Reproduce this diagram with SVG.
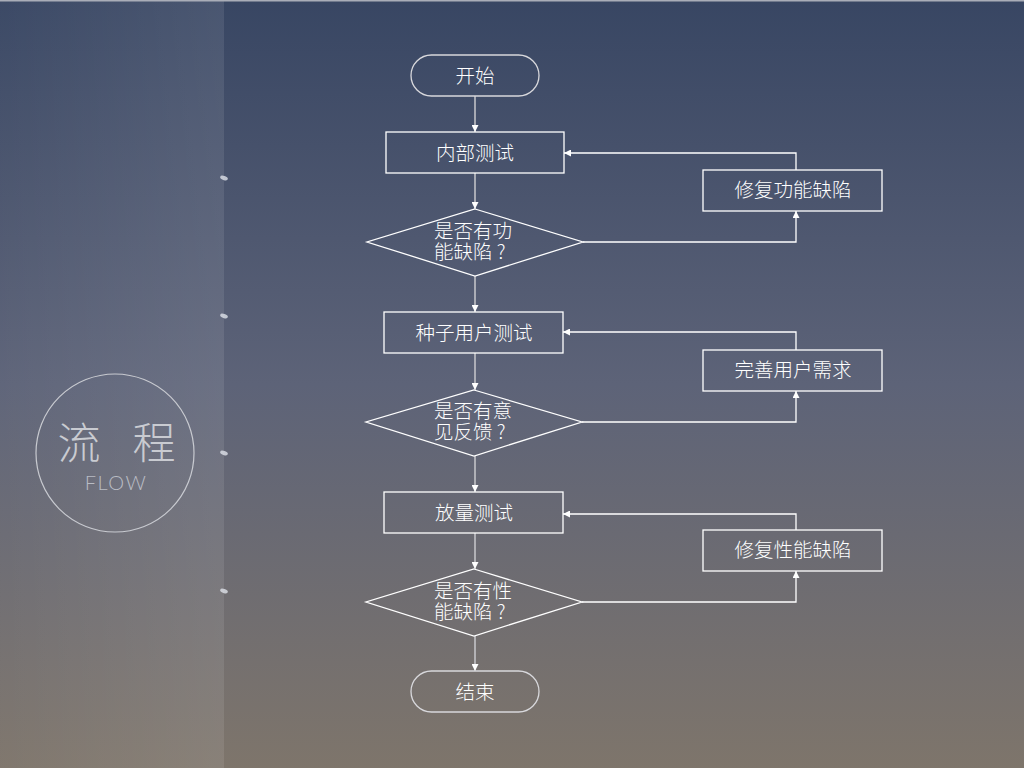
<svg xmlns="http://www.w3.org/2000/svg" width="1024" height="768" viewBox="0 0 1024 768">
<defs>
<linearGradient id="bg" x1="0" y1="0" x2="0" y2="1">
<stop offset="0" stop-color="#384663"/>
<stop offset="0.5" stop-color="#5d6378"/>
<stop offset="1" stop-color="#7e756b"/>
</linearGradient>
<linearGradient id="panel" x1="0" y1="0" x2="1" y2="0">
<stop offset="0" stop-color="#ffffff" stop-opacity="0.02"/>
<stop offset="1" stop-color="#ffffff" stop-opacity="0.09"/>
</linearGradient>
<marker id="ah" viewBox="0 0 10 10" refX="10" refY="5" markerWidth="7" markerHeight="7" orient="auto" markerUnits="userSpaceOnUse">
<path d="M0,0 L10,5 L0,10 z" fill="#ffffff"/>
</marker>
</defs>
<style>
.shape{fill:none;stroke:#ffffff;stroke-width:1.3}
.term{fill:none;stroke:#d8d8dc;stroke-width:1.3}
.lbl{font-family:"Noto Sans CJK SC","Noto Sans",sans-serif;font-size:19.5px;fill:#ffffff;text-anchor:middle;font-weight:300}
.dl{font-family:"Noto Sans CJK SC","Noto Sans",sans-serif;font-size:19.5px;fill:#ffffff;text-anchor:start;font-weight:300}
.v{fill:none;stroke:#c9c9cc;stroke-width:1.5}
.h{fill:none;stroke:#ffffff;stroke-width:1.3}
.mark{fill:#dfe2ea;opacity:0.8}
</style>
<rect x="0" y="0" width="1024" height="768" fill="url(#bg)"/>
<rect x="0" y="0" width="224" height="768" fill="url(#panel)"/>
<rect x="0" y="0" width="1024" height="1.5" fill="#a9adb8"/>
<g id="marks">
<ellipse class="mark" cx="224" cy="178" rx="4" ry="2" transform="rotate(20 224 178)"/>
<ellipse class="mark" cx="224" cy="316" rx="4" ry="2" transform="rotate(20 224 316)"/>
<ellipse class="mark" cx="224" cy="453" rx="4" ry="2" transform="rotate(20 224 453)"/>
<ellipse class="mark" cx="224" cy="591" rx="4" ry="2" transform="rotate(20 224 591)"/>
</g>
<g id="title">
<circle cx="115" cy="453" r="79" fill="none" stroke="#c8cad0" stroke-width="1.2"/>
<text x="79" y="459" font-family="Noto Sans CJK SC,sans-serif" font-weight="200" font-size="43" fill="#c9cbd1" text-anchor="middle">流</text>
<text x="154" y="459" font-family="Noto Sans CJK SC,sans-serif" font-weight="200" font-size="43" fill="#c9cbd1" text-anchor="middle">程</text>
<text x="116" y="490" font-family="Lato,Noto Sans,sans-serif" font-weight="300" font-size="20" fill="#b9bcc4" text-anchor="middle" letter-spacing="1.5">FLOW</text>
</g>
<g id="connectors">
<line class="v" x1="475" y1="96" x2="475" y2="132" marker-end="url(#ah)"/>
<line class="v" x1="475" y1="173" x2="475" y2="209" marker-end="url(#ah)"/>
<line class="v" x1="475" y1="276" x2="475" y2="312" marker-end="url(#ah)"/>
<line class="v" x1="475" y1="353" x2="475" y2="390" marker-end="url(#ah)"/>
<line class="v" x1="475" y1="456" x2="475" y2="492" marker-end="url(#ah)"/>
<line class="v" x1="475" y1="533" x2="475" y2="569" marker-end="url(#ah)"/>
<line class="v" x1="475" y1="636" x2="475" y2="671" marker-end="url(#ah)"/>
<polyline class="h" points="583,242 796,242 796,211" marker-end="url(#ah)"/>
<polyline class="h" points="796,170 796,153 564,153" marker-end="url(#ah)"/>
<polyline class="h" points="582,422 796,422 796,391" marker-end="url(#ah)"/>
<polyline class="h" points="796,350 796,332 563,332" marker-end="url(#ah)"/>
<polyline class="h" points="582,602 796,602 796,571" marker-end="url(#ah)"/>
<polyline class="h" points="796,530 796,514 563,514" marker-end="url(#ah)"/>
</g>
<g id="start">
<rect class="term" x="411" y="55" width="128" height="41" rx="20.5"/>
<text class="lbl" x="475" y="83">开始</text>
</g>
<g id="test1">
<rect class="shape" x="386" y="132" width="178" height="41"/>
<text class="lbl" x="475" y="160">内部测试</text>
</g>
<g id="dec1">
<polygon class="shape" points="475,209 583,242 475,276 367,242"/>
<text class="dl" x="434" y="238">是否有功<tspan x="434" dy="21">能缺陷 ?</tspan></text>
</g>
<g id="fix1">
<rect class="shape" x="703" y="170" width="179" height="41"/>
<text class="lbl" x="793" y="197">修复功能缺陷</text>
</g>
<g id="test2">
<rect class="shape" x="384" y="312" width="179" height="41"/>
<text class="lbl" x="474" y="340">种子用户测试</text>
</g>
<g id="dec2">
<polygon class="shape" points="474,390 582,422 474,456 366,422"/>
<text class="dl" x="434" y="418">是否有意<tspan x="434" dy="21">见反馈 ?</tspan></text>
</g>
<g id="fix2">
<rect class="shape" x="703" y="350" width="179" height="41"/>
<text class="lbl" x="793" y="377">完善用户需求</text>
</g>
<g id="test3">
<rect class="shape" x="384" y="492" width="179" height="41"/>
<text class="lbl" x="474" y="520">放量测试</text>
</g>
<g id="dec3">
<polygon class="shape" points="474,569 582,602 474,636 366,602"/>
<text class="dl" x="434" y="598">是否有性<tspan x="434" dy="21">能缺陷 ?</tspan></text>
</g>
<g id="fix3">
<rect class="shape" x="703" y="530" width="179" height="41"/>
<text class="lbl" x="793" y="557">修复性能缺陷</text>
</g>
<g id="end">
<rect class="term" x="411" y="671" width="128" height="41" rx="20.5"/>
<text class="lbl" x="475" y="699">结束</text>
</g>
</svg>
